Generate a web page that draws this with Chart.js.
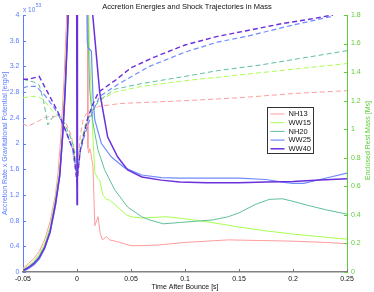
<!DOCTYPE html>
<html><head><meta charset="utf-8">
<script src="https://cdn.jsdelivr.net/npm/chart.js@4.4.1/dist/chart.umd.min.js"></script>
<style>html,body{margin:0;padding:0;background:#fff}canvas{display:block}</style>
</head><body>
<canvas id="c" width="374" height="292"></canvas>
<script>
// ---- data ----
const seriesNames = ['NH13', 'WW15', 'NH20', 'WW25', 'WW40'];

// Accretion rate x gravitational potential, [time s, value x1e53 erg/s]
const energyNH13 = [[-0.05,0.06],[-0.045,0.13],[-0.04,0.21],[-0.035,0.32],[-0.03,0.5],[-0.025,0.78],[-0.02,1.2],[-0.0176,1.54],[-0.015,2.1],[-0.012,3.0],[-0.01,3.8],[-0.008,4.8],[-0.004,6.5],[0,7],[0.004,6.5],[0.007,6],[0.0095,4.2],[0.0101,1.93],[0.0108,1.85],[0.0118,1.92],[0.0125,1.88],[0.0148,1.64],[0.0165,0.72],[0.0195,0.86],[0.0215,0.6],[0.0235,0.5],[0.0272,0.55],[0.0303,0.5],[0.0395,0.46],[0.05,0.41],[0.06,0.41],[0.075,0.42],[0.1,0.46],[0.12,0.48],[0.14,0.5],[0.17,0.49],[0.2,0.48],[0.23,0.46],[0.25,0.44]];
const energyWW15 = [[-0.05,0.04],[-0.045,0.1],[-0.04,0.17],[-0.035,0.28],[-0.03,0.44],[-0.025,0.7],[-0.02,1.12],[-0.016,1.6],[-0.013,2.3],[-0.011,3.0],[-0.009,3.8],[-0.007,4.7],[-0.003,6.5],[0,7],[0.004,6.5],[0.009,6],[0.0115,3.5],[0.0145,2.2],[0.0165,1.55],[0.019,1.46],[0.021,1.43],[0.024,1.2],[0.027,1.13],[0.03,1.12],[0.033,1.08],[0.037,1.02],[0.0457,0.89],[0.05,0.86],[0.06,0.84],[0.083,0.86],[0.104,0.82],[0.125,0.77],[0.15,0.70],[0.175,0.64],[0.2,0.59],[0.225,0.55],[0.25,0.51]];
const energyNH20 = [[-0.05,0.03],[-0.045,0.08],[-0.04,0.15],[-0.035,0.25],[-0.03,0.4],[-0.025,0.66],[-0.02,1.1],[-0.016,1.55],[-0.013,2.25],[-0.011,2.9],[-0.009,3.7],[-0.007,4.6],[-0.003,6.5],[0,7],[0.004,6.5],[0.008,6],[0.0105,3.6],[0.0118,2.83],[0.0148,2.32],[0.0194,1.9],[0.0256,1.59],[0.0349,1.28],[0.0469,1.01],[0.0599,0.86],[0.0673,0.81],[0.08,0.75],[0.095,0.77],[0.11,0.79],[0.1256,0.81],[0.14,0.86],[0.15,0.92],[0.165,1.05],[0.178,1.13],[0.19,1.14],[0.2,1.10],[0.213,1.04],[0.23,0.97],[0.25,0.90]];
const energyWW25 = [[-0.05,0.01],[-0.045,0.05],[-0.04,0.11],[-0.035,0.2],[-0.03,0.36],[-0.025,0.6],[-0.02,1.02],[-0.016,1.48],[-0.013,2.15],[-0.011,2.8],[-0.009,3.6],[-0.007,4.5],[-0.003,6.5],[0,7],[0.004,6.5],[0.008,6],[0.0095,3.6],[0.0102,3.49],[0.0133,3.44],[0.0148,2.73],[0.0164,2.37],[0.0226,2.0],[0.0319,1.79],[0.0442,1.62],[0.06,1.51],[0.078,1.47],[0.095,1.46],[0.12,1.46],[0.15,1.46],[0.175,1.44],[0.19,1.40],[0.2,1.38],[0.21,1.38],[0.225,1.44],[0.25,1.54]];
const energyWW40 = [[-0.05,0.02],[-0.045,0.07],[-0.04,0.13],[-0.035,0.22],[-0.03,0.38],[-0.025,0.62],[-0.02,1.05],[-0.016,1.5],[-0.013,2.2],[-0.011,2.8],[-0.009,3.6],[-0.008,4.1],[-0.005,5.5],[-0.0004,5.5],[0,1.05],[0.0004,5.5],[0.006,6],[0.0143,4.05],[0.021,2.8],[0.0284,2.1],[0.0377,1.79],[0.0469,1.59],[0.06,1.48],[0.078,1.43],[0.095,1.40],[0.12,1.39],[0.15,1.39],[0.175,1.40],[0.2,1.41],[0.225,1.43],[0.25,1.45]];

// Shock trajectories: enclosed rest mass, [time s, mass Ms]
const massNH13 = [[-0.05,1.04],[-0.046,1.02],[-0.04,1.04],[-0.035,1.06],[-0.03,1.08],[-0.025,1.09],[-0.02,1.09],[-0.015,1.07],[-0.01,1.04],[-0.005,0.95],[0,0.68],[0.003,0.95],[0.006,1.08],[0.01,1.12],[0.02,1.16],[0.04,1.18],[0.07,1.19],[0.1,1.20],[0.15,1.22],[0.2,1.25],[0.25,1.27]];
const massWW15 = [[-0.05,1.22],[-0.043,1.23],[-0.036,1.23],[-0.03,1.20],[-0.025,1.15],[-0.02,1.11],[-0.013,1.06],[-0.006,0.95],[-0.002,0.85],[0,0.66],[0.003,0.88],[0.007,1.02],[0.012,1.12],[0.021,1.20],[0.035,1.26],[0.06,1.30],[0.1,1.34],[0.15,1.38],[0.2,1.42],[0.25,1.46]];
const massNH20 = [[-0.05,1.35],[-0.04,1.33],[-0.035,1.31],[-0.031,1.20],[-0.027,1.03],[-0.023,1.08],[-0.018,1.10],[-0.014,1.08],[-0.008,0.98],[-0.003,0.88],[0,0.66],[0.003,0.85],[0.007,1.0],[0.012,1.10],[0.02,1.20],[0.035,1.28],[0.06,1.32],[0.1,1.37],[0.13,1.41],[0.17,1.45],[0.21,1.50],[0.25,1.55]];
const massWW25 = [[-0.05,1.29],[-0.045,1.30],[-0.038,1.30],[-0.03,1.24],[-0.022,1.16],[-0.017,1.10],[-0.01,0.98],[-0.004,0.86],[0,0.64],[0.003,0.84],[0.006,0.93],[0.01,1.03],[0.015,1.13],[0.021,1.23],[0.037,1.31],[0.067,1.44],[0.1,1.54],[0.13,1.61],[0.157,1.65],[0.2,1.73],[0.236,1.79]];
const massWW40 = [[-0.05,1.35],[-0.045,1.35],[-0.04,1.36],[-0.035,1.37],[-0.028,1.27],[-0.021,1.17],[-0.017,1.11],[-0.0095,0.97],[-0.0033,0.85],[0,0.63],[0.003,0.85],[0.006,0.95],[0.01,1.08],[0.015,1.18],[0.02,1.26],[0.035,1.34],[0.05,1.43],[0.07,1.50],[0.1,1.59],[0.13,1.65],[0.157,1.69],[0.19,1.74],[0.215,1.77],[0.237,1.80]];

const energySeries = [energyNH13, energyWW15, energyNH20, energyWW25, energyWW40];
const massSeries = [massNH13, massWW15, massNH20, massWW25, massWW40];

const timeRange = [-0.05, 0.25];
const timeStep = 0.05;
const energyRange = [0, 4];
const energyStep = 0.4;
const massRange = [0, 1.8];
const massStep = 0.2;

// ---- style ----
const FONT = "'Liberation Sans', Arial, Helvetica, sans-serif";
const colors = ['#ff9c9c', '#a8ff50', '#5fbf9c', '#6f8cff', '#6a30dc'];
const solidWidths = [1, 1, 1, 1.2, 1.5];
const dashWidths = [1, 1, 1, 1.2, 1.4];
const LEFT_C = '#5a7cff';
const RIGHT_C = '#5fcc3a';

const toXY = arr => arr.map(p => ({x: p[0], y: p[1]}));
const datasets = [];
// index 0 is drawn on top -> put WW40 first
for (let i = seriesNames.length - 1; i >= 0; i--) {
  datasets.push({label: seriesNames[i], kind: 'energy', si: i, data: toXY(energySeries[i]), yAxisID: 'yE',
    borderColor: colors[i], borderWidth: solidWidths[i], pointRadius: 0, tension: 0, fill: false});
  datasets.push({label: seriesNames[i] + ' mass', kind: 'mass', si: i, data: toXY(massSeries[i]), yAxisID: 'yM',
    borderColor: colors[i], borderWidth: dashWidths[i], borderDash: [5, 3], pointRadius: 0, tension: 0, fill: false});
}

const fmt = v => String(parseFloat(Number(v).toFixed(2)));

const deco = {
  id: 'deco',
  afterDraw(chart) {
    const {ctx, chartArea: a} = chart;
    const sx = chart.scales.x, sl = chart.scales.yE, sr = chart.scales.yM;
    ctx.save();
    ctx.lineWidth = 1;
    // inward tick marks
    ctx.strokeStyle = '#777';
    sx.ticks.forEach(t => {
      const p = Math.round(sx.getPixelForValue(t.value)) + 0.5;
      ctx.beginPath(); ctx.moveTo(p, a.bottom); ctx.lineTo(p, a.bottom - 3); ctx.stroke();
    });
    ctx.strokeStyle = LEFT_C;
    sl.ticks.forEach(t => {
      const p = Math.round(sl.getPixelForValue(t.value)) + 0.5;
      ctx.beginPath(); ctx.moveTo(a.left, p); ctx.lineTo(a.left + 3, p); ctx.stroke();
    });
    ctx.strokeStyle = RIGHT_C;
    sr.ticks.forEach(t => {
      const p = Math.round(sr.getPixelForValue(t.value)) + 0.5;
      ctx.beginPath(); ctx.moveTo(a.right, p); ctx.lineTo(a.right - 3, p); ctx.stroke();
    });
    // exponent label
    ctx.fillStyle = LEFT_C;
    ctx.textBaseline = 'alphabetic';
    ctx.textAlign = 'left';
    ctx.font = '6.5px ' + FONT;
    ctx.fillText('x 10', a.left, 11.5);
    const w = ctx.measureText('x 10').width;
    ctx.font = '5px ' + FONT;
    ctx.fillText('53', a.left + w + 0.5, 7);
    // right axis title (reads bottom-to-top)
    ctx.save();
    ctx.translate(368, (a.top + a.bottom) / 2 - 3);
    ctx.rotate(-Math.PI / 2);
    ctx.fillStyle = RIGHT_C;
    ctx.font = '7px ' + FONT;
    ctx.textAlign = 'center';
    ctx.textBaseline = 'middle';
    ctx.fillText('Enclosed Rest Mass [Ms]', 0, 0);
    ctx.restore();
    // legend
    const bx = 267.5, by = 107.5, bw = 46, bh = 46;
    ctx.fillStyle = '#fff';
    ctx.fillRect(bx, by, bw, bh);
    ctx.strokeStyle = '#333';
    ctx.lineWidth = 1;
    ctx.strokeRect(bx, by, bw, bh);
    ctx.font = '7.5px ' + FONT;
    ctx.textAlign = 'left';
    ctx.textBaseline = 'middle';
    const items = chart.data.datasets.filter(d => d.kind === 'energy').sort((p, q) => p.si - q.si);
    items.forEach((d, k) => {
      const yy = by + 6.5 + k * 8.7;
      ctx.strokeStyle = d.borderColor;
      ctx.lineWidth = d.borderWidth;
      ctx.beginPath(); ctx.moveTo(bx + 3, yy); ctx.lineTo(bx + 17, yy); ctx.stroke();
      ctx.fillStyle = '#111';
      ctx.fillText(d.label, bx + 21, yy + 0.3);
    });
    ctx.restore();
  }
};

new Chart(document.getElementById('c'), {
  type: 'line',
  data: {datasets},
  options: {
    responsive: false,
    animation: false,
    devicePixelRatio: 1,
    layout: {padding: 0},
    plugins: {
      legend: {display: false},
      tooltip: {enabled: false},
      title: {display: true, text: 'Accretion Energies and Shock Trajectories in Mass',
        color: '#111', font: {family: FONT, size: 7.5, weight: 'normal'}, padding: {top: 2, bottom: 4}}
    },
    scales: {
      x: {type: 'linear', min: timeRange[0], max: timeRange[1],
        afterFit: s => { s.height = 20; },
        grid: {display: false, drawTicks: false},
        border: {display: true, color: '#808080', width: 1.5},
        ticks: {stepSize: timeStep, autoSkip: false, maxRotation: 0, padding: 3, color: '#111',
          font: {family: FONT, size: 7}, callback: v => fmt(v)},
        title: {display: true, text: 'Time After Bounce [s]', color: '#111',
          font: {family: FONT, size: 7}, padding: {top: 0, bottom: 1}}
      },
      yE: {type: 'linear', position: 'left', min: energyRange[0], max: energyRange[1],
        afterFit: s => { s.width = 23; },
        grid: {display: false, drawTicks: false},
        border: {display: true, color: LEFT_C, width: 1},
        ticks: {stepSize: energyStep, autoSkip: false, padding: 3.5, color: LEFT_C,
          font: {family: FONT, size: 7}, callback: v => fmt(v)},
        title: {display: true, text: 'Accretion Rate x Gravitational Potential [erg/s]', color: LEFT_C,
          font: {family: FONT, size: 7}, padding: {top: 1, bottom: 0}}
      },
      yM: {type: 'linear', position: 'right', min: massRange[0], max: massRange[1],
        afterFit: s => { s.width = 27; },
        grid: {display: false, drawTicks: false},
        border: {display: true, color: RIGHT_C, width: 1},
        ticks: {stepSize: massStep, autoSkip: false, padding: 4, color: RIGHT_C,
          font: {family: FONT, size: 7}, callback: v => fmt(v)},
        title: {display: false}
      }
    }
  },
  plugins: [deco]
});
</script>
</body></html>
